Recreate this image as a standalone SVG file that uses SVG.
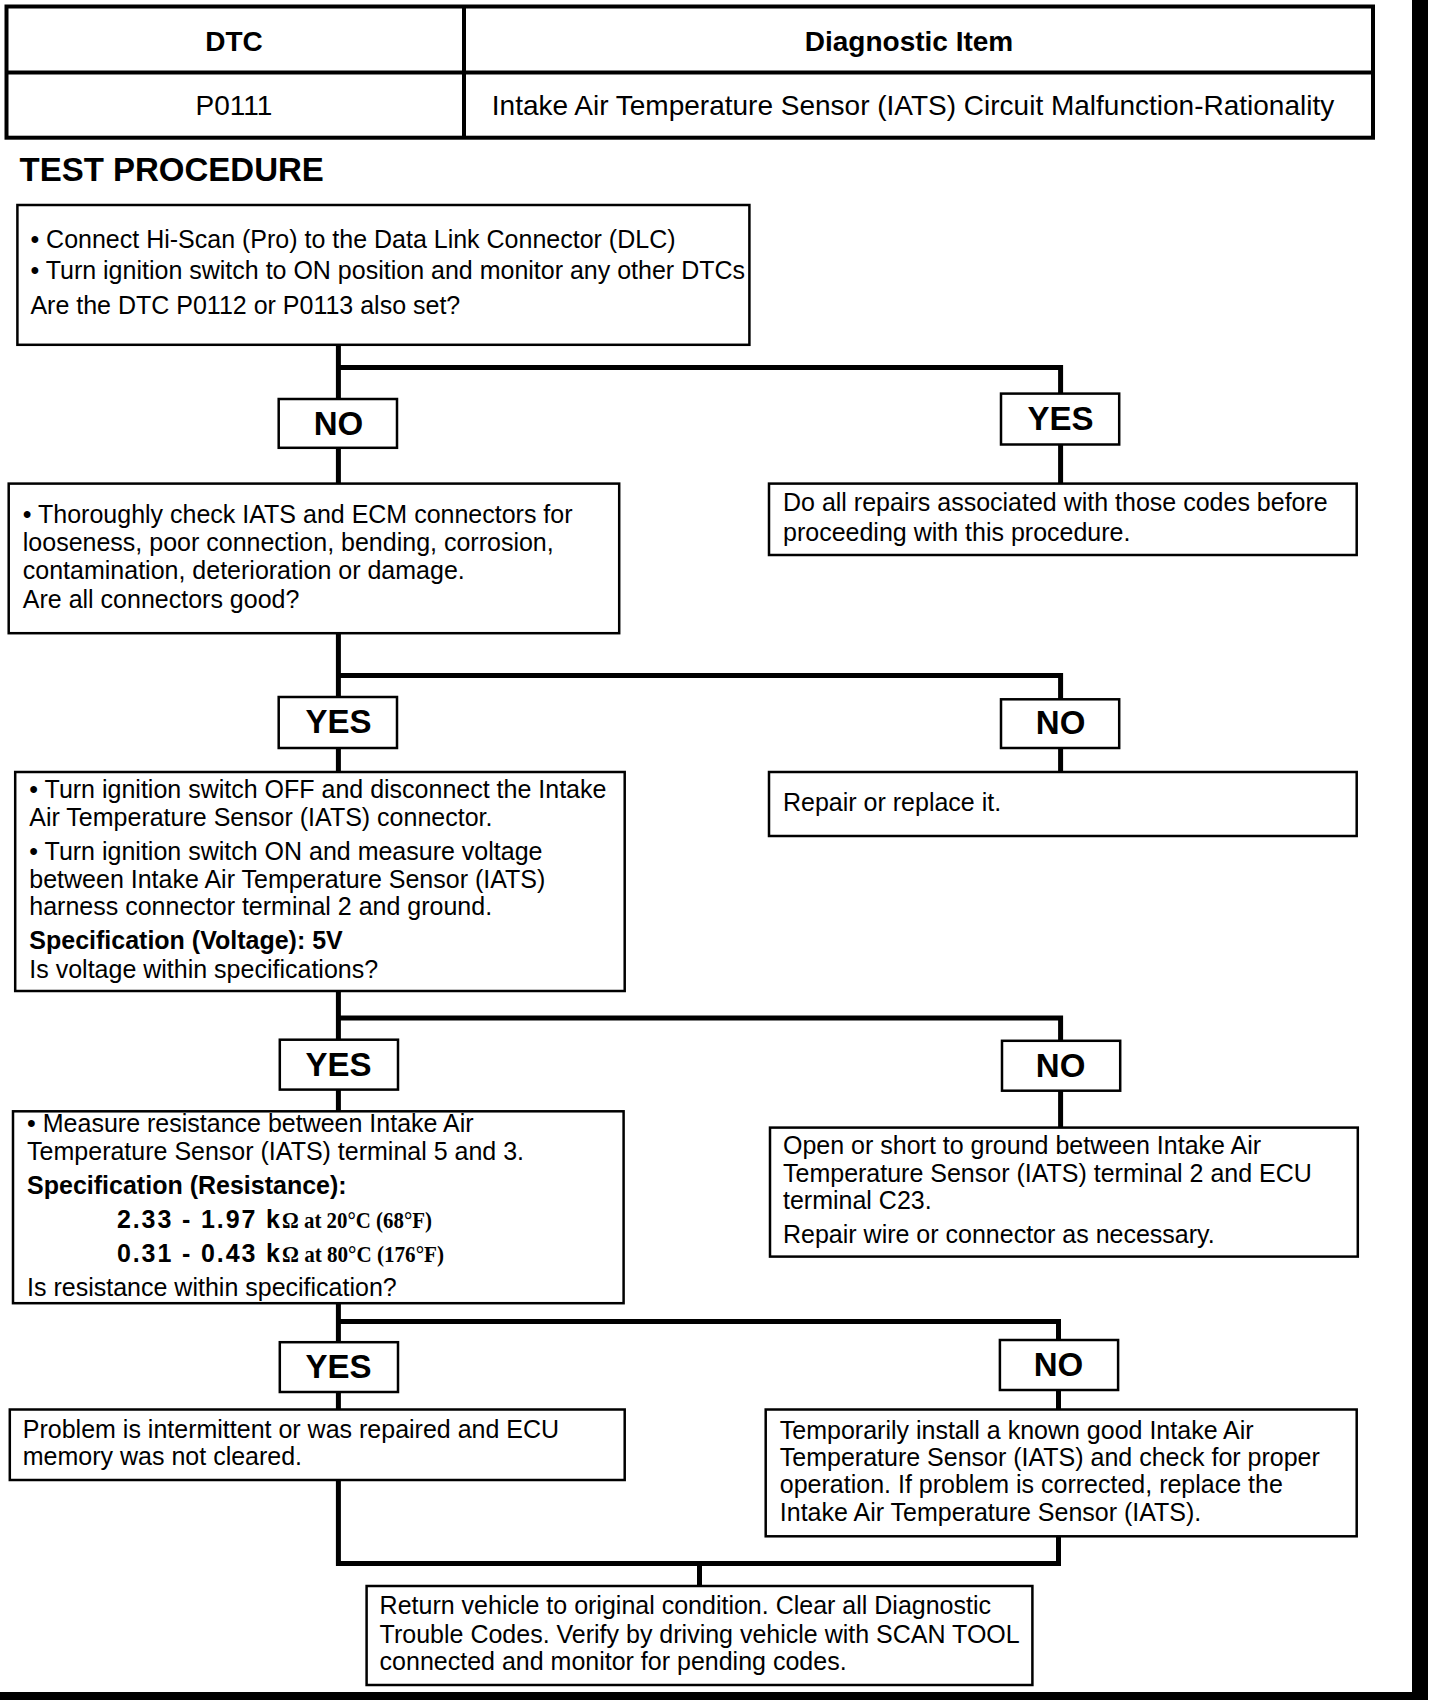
<svg xmlns="http://www.w3.org/2000/svg" width="1440" height="1700" viewBox="0 0 1440 1700">
<style>
.box{fill:#fff;stroke:#000;stroke-width:2.5}
.tbl{fill:none;stroke:#000;stroke-width:4}
.t{font-family:"Liberation Sans",Arial,sans-serif;font-size:25px;fill:#000}
.b{font-weight:bold}
.tm{font-family:"Liberation Serif","Times New Roman",serif;font-weight:bold;font-size:24px;fill:#000}
.th{font-family:"Liberation Sans",Arial,sans-serif;font-size:28px;fill:#000;text-anchor:middle}
.lt{font-family:"Liberation Sans",Arial,sans-serif;font-size:33px;font-weight:bold;fill:#000;text-anchor:middle}
.conn{fill:none;stroke:#000;stroke-width:5;stroke-linejoin:miter}
</style>
<rect x="0" y="0" width="1440" height="1700" fill="#fff"/>
<g id="page-border">
<rect x="1412" y="0" width="16" height="1700" fill="#000"/>
<rect x="0" y="1692" width="1428" height="8" fill="#000"/>
</g>
<g id="dtc-table">
<rect class="tbl" x="6.5" y="6.5" width="1366.5" height="131.2"/>
<line class="tbl" x1="464" y1="6.5" x2="464" y2="137.7"/>
<line class="tbl" x1="6.5" y1="72.6" x2="1373" y2="72.6"/>
<text class="th b" x="234" y="51">DTC</text>
<text class="th b" x="909" y="51">Diagnostic Item</text>
<text class="th" x="234" y="115">P0111</text>
<text class="th" x="913" y="115">Intake Air Temperature Sensor (IATS) Circuit Malfunction-Rationality</text>
</g>
<text class="t b" x="19.5" y="181" style="font-size:33px">TEST PROCEDURE</text>
<g id="connectors">
<path class="conn" d="M338.4 344.8 V399"/>
<path class="conn" d="M338.4 367.5 H1060.6 V393.6"/>
<path class="conn" d="M338.4 447.8 V483.6"/>
<path class="conn" d="M1060.6 444.5 V483.6"/>
<path class="conn" d="M338.4 633.2 V697"/>
<path class="conn" d="M338.4 675.5 H1060.6 V699.3"/>
<path class="conn" d="M338.4 748 V772"/>
<path class="conn" d="M1060.6 748 V772"/>
<path class="conn" d="M338.4 991 V1039.7"/>
<path class="conn" d="M338.4 1018 H1060.6 V1040.8"/>
<path class="conn" d="M338.4 1089.6 V1111.3"/>
<path class="conn" d="M1060.6 1090.7 V1127.6"/>
<path class="conn" d="M338.4 1303.2 V1342.2"/>
<path class="conn" d="M338.4 1321.6 H1058.5 V1340"/>
<path class="conn" d="M338.4 1392 V1409.5"/>
<path class="conn" d="M1058.5 1390 V1409.5"/>
<path class="conn" d="M338.4 1480 V1563.4 H1058.5 V1536.3"/>
<path class="conn" d="M699.5 1563.4 V1586"/>
</g>
<g id="step1">
<rect class="box" x="17.4" y="205" width="732" height="139.8"/>
<text class="t" x="30.4" y="248">• Connect Hi-Scan (Pro) to the Data Link Connector (DLC)</text>
<text class="t" x="30.4" y="278.6">• Turn ignition switch to ON position and monitor any other DTCs</text>
<text class="t" x="30.4" y="314.4">Are the DTC P0112 or P0113 also set?</text>
</g>
<g id="no1"><rect class="box" x="278.7" y="399" width="118.3" height="48.8"/><text class="lt" x="338.4" y="434.8">NO</text></g>
<g id="yes1"><rect class="box" x="1001" y="393.6" width="118.2" height="50.9"/><text class="lt" x="1060.6" y="430.4">YES</text></g>
<g id="step2">
<rect class="box" x="8.7" y="483.6" width="610.5" height="149.6"/>
<text class="t" x="22.8" y="522.6">• Thoroughly check IATS and ECM connectors for</text>
<text class="t" x="22.8" y="550.8">looseness, poor connection, bending, corrosion,</text>
<text class="t" x="22.8" y="579">contamination, deterioration or damage.</text>
<text class="t" x="22.8" y="608.2">Are all connectors good?</text>
</g>
<g id="result1">
<rect class="box" x="769" y="483.6" width="587.7" height="71.4"/>
<text class="t" x="783" y="510.7">Do all repairs associated with those codes before</text>
<text class="t" x="783" y="541">proceeding with this procedure.</text>
</g>
<g id="yes2"><rect class="box" x="278.7" y="697" width="118.3" height="51"/><text class="lt" x="338.4" y="733">YES</text></g>
<g id="no2"><rect class="box" x="1001" y="699.3" width="118.2" height="48.7"/><text class="lt" x="1060.6" y="734">NO</text></g>
<g id="step3">
<rect class="box" x="15.2" y="772" width="609.5" height="219"/>
<text class="t" x="29.3" y="798">• Turn ignition switch OFF and disconnect the Intake</text>
<text class="t" x="29.3" y="826">Air Temperature Sensor (IATS) connector.</text>
<text class="t" x="29.3" y="859.8">• Turn ignition switch ON and measure voltage</text>
<text class="t" x="29.3" y="888">between Intake Air Temperature Sensor (IATS)</text>
<text class="t" x="29.3" y="915">harness connector terminal 2 and ground.</text>
<text class="t b" x="29.3" y="948.7">Specification (Voltage): 5V</text>
<text class="t" x="29.3" y="978">Is voltage within specifications?</text>
</g>
<g id="result2">
<rect class="box" x="769" y="772" width="587.7" height="64"/>
<text class="t" x="783" y="811">Repair or replace it.</text>
</g>
<g id="yes3"><rect class="box" x="279.8" y="1039.7" width="118.2" height="49.9"/><text class="lt" x="338.4" y="1075.5">YES</text></g>
<g id="no3"><rect class="box" x="1002" y="1040.8" width="118.2" height="49.9"/><text class="lt" x="1060.6" y="1076.6">NO</text></g>
<g id="step4">
<rect class="box" x="13" y="1111.3" width="610.6" height="191.9"/>
<text class="t" x="27.1" y="1132">• Measure resistance between Intake Air</text>
<text class="t" x="27.1" y="1160">Temperature Sensor (IATS) terminal 5 and 3.</text>
<text class="t b" x="27.1" y="1193.7">Specification (Resistance):</text>
<text class="t b" x="117" y="1228.4" textLength="163" lengthAdjust="spacing">2.33 - 1.97 k</text>
<text class="tm" x="282" y="1228.4" textLength="150" lengthAdjust="spacingAndGlyphs">Ω at 20°C (68°F)</text>
<text class="t b" x="117" y="1262" textLength="163" lengthAdjust="spacing">0.31 - 0.43 k</text>
<text class="tm" x="282" y="1262" textLength="162" lengthAdjust="spacingAndGlyphs">Ω at 80°C (176°F)</text>
<text class="t" x="27.1" y="1295.6">Is resistance within specification?</text>
</g>
<g id="result3">
<rect class="box" x="770" y="1127.6" width="587.8" height="129"/>
<text class="t" x="783" y="1153.6">Open or short to ground between Intake Air</text>
<text class="t" x="783" y="1181.8">Temperature Sensor (IATS) terminal 2 and ECU</text>
<text class="t" x="783" y="1208.9">terminal C23.</text>
<text class="t" x="783" y="1242.5">Repair wire or connector as necessary.</text>
</g>
<g id="yes4"><rect class="box" x="279.8" y="1342.2" width="118.2" height="49.8"/><text class="lt" x="338.4" y="1378">YES</text></g>
<g id="no4"><rect class="box" x="999.9" y="1340" width="118.2" height="50"/><text class="lt" x="1058.5" y="1375.8">NO</text></g>
<g id="result4">
<rect class="box" x="9.8" y="1409.5" width="614.9" height="70.5"/>
<text class="t" x="22.8" y="1437.6">Problem is intermittent or was repaired and ECU</text>
<text class="t" x="22.8" y="1464.7">memory was not cleared.</text>
</g>
<g id="result5">
<rect class="box" x="765.7" y="1409.5" width="591" height="126.8"/>
<text class="t" x="779.8" y="1438.7">Temporarily install a known good Intake Air</text>
<text class="t" x="779.8" y="1465.8">Temperature Sensor (IATS) and check for proper</text>
<text class="t" x="779.8" y="1493">operation. If problem is corrected, replace the</text>
<text class="t" x="779.8" y="1521">Intake Air Temperature Sensor (IATS).</text>
</g>
<g id="final">
<rect class="box" x="366.6" y="1586" width="665.8" height="99"/>
<text class="t" x="379.6" y="1614">Return vehicle to original condition. Clear all Diagnostic</text>
<text class="t" x="379.6" y="1642.5">Trouble Codes. Verify by driving vehicle with SCAN TOOL</text>
<text class="t" x="379.6" y="1669.7">connected and monitor for pending codes.</text>
</g>
</svg>
